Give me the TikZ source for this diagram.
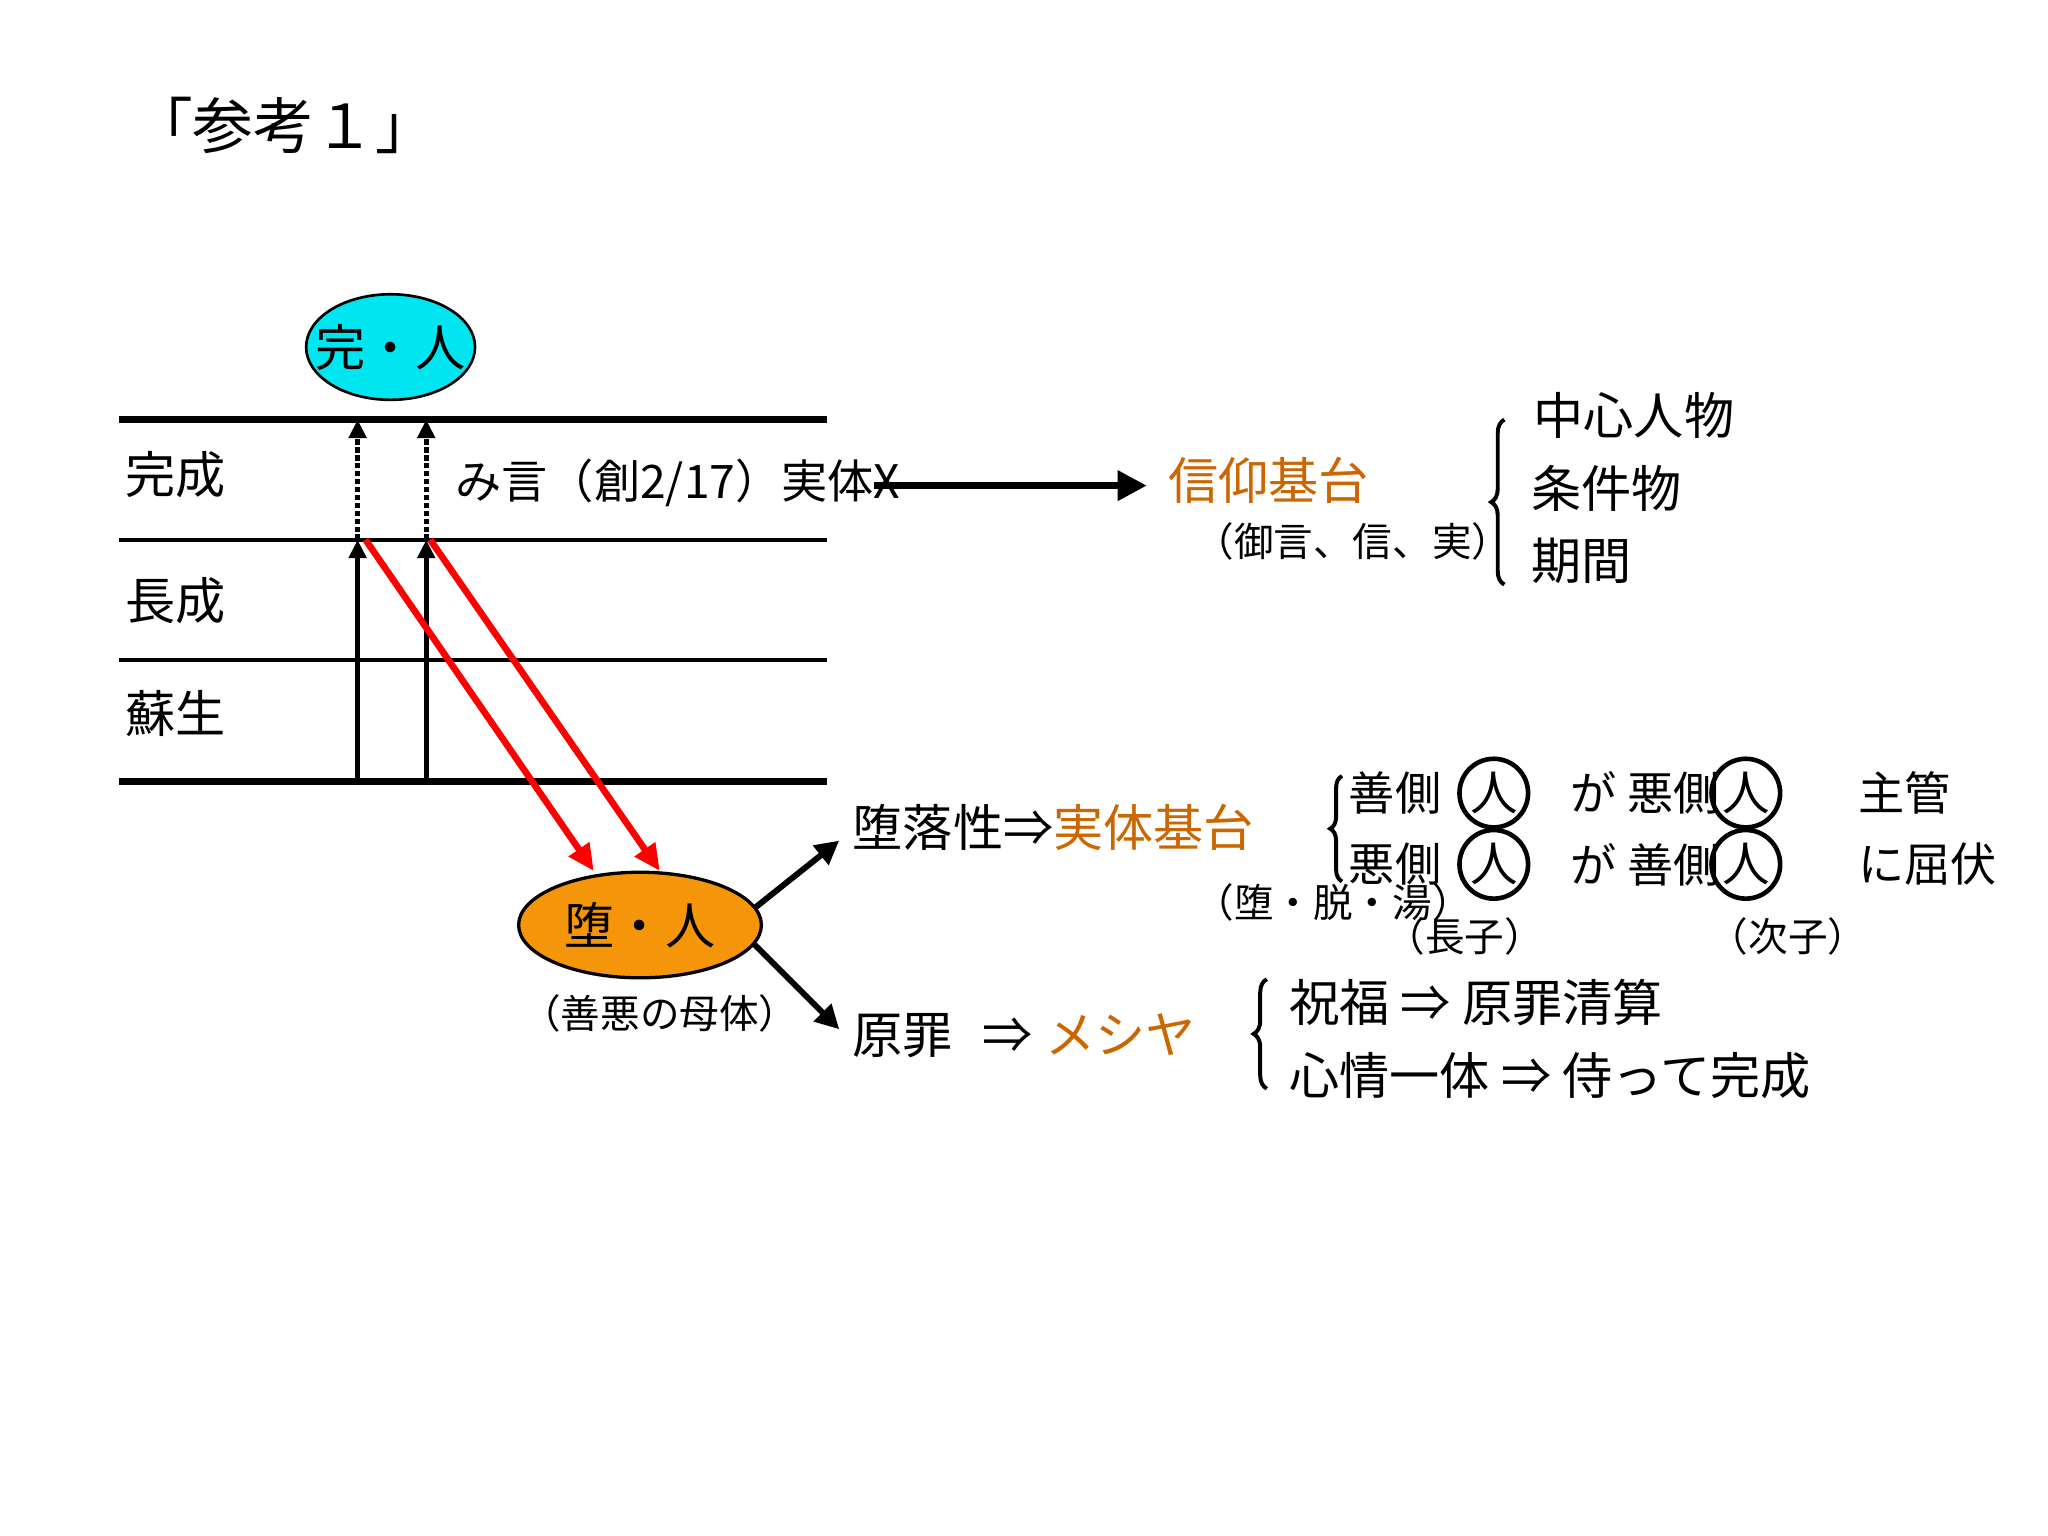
\documentclass[tikz,border=0pt]{standalone}
\usepackage{fontspec}
\setmainfont{Noto Sans CJK JP}
\usetikzlibrary{arrows.meta,decorations.pathreplacing,shapes.geometric}
\definecolor{orT}{RGB}{204,102,0}
\definecolor{cyanE}{RGB}{0,230,240}
\definecolor{orE}{RGB}{245,150,10}
\begin{document}
\begin{tikzpicture}[x=1pt,y=-1pt,
  big/.style={font=\fontsize{38}{40}\selectfont,inner sep=0pt},
  mid/.style={font=\fontsize{35}{38}\selectfont,inner sep=0pt},
  sml/.style={font=\fontsize{30}{32}\selectfont,inner sep=0pt},
  lvl/.style={line width=3.2pt},
  arr/.style={line width=4.5pt,-{Triangle[length=18pt,width=18pt]}},
  redarr/.style={red,line width=5pt,-{Triangle[length=20pt,width=18pt]}},
  circ/.style={draw,circle,line width=3.5pt,minimum size=52pt,inner sep=0pt,font=\fontsize{36}{38}\selectfont}]
\useasboundingbox (0,0) rectangle (1552,1164);
\fill[white] (0,0) rectangle (1552,1164);
\node[anchor=west,font=\fontsize{46}{48}\selectfont,inner sep=0pt] (title) at (100,95) {「参考１」};
% levels
\draw[line width=5pt] (90,318) coordinate (l1a) -- (627,318) coordinate (l1b);
\draw[lvl] (90,409) coordinate (l2a) -- (627,409);
\draw[lvl] (90,500) coordinate (l3a) -- (627,500);
\draw[line width=5pt] (90,592) coordinate (l4a) -- (627,592);
\node[big,anchor=west] (kansei) at (95,360) {完成};
\node[big,anchor=west] (chosei) at (95,455) {長成};
\node[big,anchor=west] (sosei) at (95,541) {蘇生};
\draw[fill=cyanE,line width=2pt] (296,263) ellipse [x radius=64, y radius=40];
\node[big] (kan) at (296,263) {完・人};
\coordinate (a1b) at (271,592); \coordinate (a1m) at (271,409); \coordinate (a1t) at (271,318);
\coordinate (a2b) at (323,592); \coordinate (a2m) at (323,409); \coordinate (a2t) at (323,318);
\draw[line width=4pt,-{Triangle[length=14pt,width=13pt]}] (a1b) -- (a1m);
\draw[line width=4pt,-{Triangle[length=14pt,width=13pt]}] (a2b) -- (a2m);
\draw[line width=4pt,dotted,-{Triangle[length=14pt,width=13pt]}] (a1m) -- (a1t);
\draw[line width=4pt,dotted,-{Triangle[length=14pt,width=13pt]}] (a2m) -- (a2t);
\draw[fill=orE,line width=2.5pt] (485,701) ellipse [x radius=92, y radius=40];
\node[big] (da) at (485,701) {堕・人};
\node[sml] (bo) at (500,768) {（善悪の母体）};
\coordinate (r1) at (277,409); \coordinate (r2) at (326,409);
\draw[redarr] (r1) -- (450,660);
\draw[redarr] (r2) -- (500,660);
% mikoto
\node[mid,anchor=west] (mik) at (345,366) {み言（創2/17）実体X};
\node[big,anchor=west,text=orT] (shin) at (885,364) {信仰基台};
\draw[line width=5pt,-{Triangle[length=22pt,width=22pt]}] (mik.east) ++(-20,2) coordinate (xs) -- ([xshift=-16pt]shin.west|-xs);
\node[sml,anchor=west] (shin2) at (905,410) {（御言、信、実）};
\draw[line width=3pt,decorate,decoration={brace,amplitude=10pt}] (1140,443) -- (1140,318);
\node[big,anchor=west] (c1) at (1162,315) {中心人物};
\node[big,anchor=west] (c2) at (1160,370) {条件物};
\node[big,anchor=west] (c3) at (1160,425) {期間};
% fall
\node[big,anchor=west] (dr) at (646,627) {堕落性⇒\textcolor{orT}{実体基台}};
\node[sml,anchor=west] (dr2) at (905,684) {（堕・脱・湯）};
\coordinate (e1) at (572,688); \coordinate (e2) at (572,716);
\draw[arr] (e1) -- (636,637);
\node[big,anchor=west] (gz) at (646,785) {原罪\hspace{22pt}⇒\hspace{10pt}\textcolor{orT}{メシヤ}};
\draw[arr] (e2) -- (636,780);
\draw[line width=3pt,decorate,decoration={brace,amplitude=9pt}] (1017,668) -- (1017,588);
\node[mid,anchor=west] (g1) at (1022,601) {善側};
\node[circ] (c11) at (1132,601) {人};
\node[mid,anchor=west] (g2) at (1190,601) {が 悪側};
\node[circ] (c12) at (1323,601) {人};
\node[mid,anchor=west] (g3) at (1408,601) {主管};
\node[mid,anchor=west] (h1) at (1022,655) {悪側};
\node[circ] (c21) at (1132,655) {人};
\node[mid,anchor=west] (h2) at (1190,655) {が 善側};
\node[circ] (c22) at (1323,655) {人};
\node[mid,anchor=west] (h3) at (1408,655) {に屈伏};
\node[sml] (cho) at (1110,710) {（長子）};
\node[sml] (ji) at (1355,710) {（次子）};
\draw[line width=3pt,decorate,decoration={brace,amplitude=10pt}] (960,825) -- (960,742);
\node[big,anchor=west] (s1) at (977,760) {祝福 ⇒ 原罪清算};
\node[big,anchor=west] (s2) at (977,815) {心情一体 ⇒ 侍って完成};
\end{tikzpicture}
\end{document}
